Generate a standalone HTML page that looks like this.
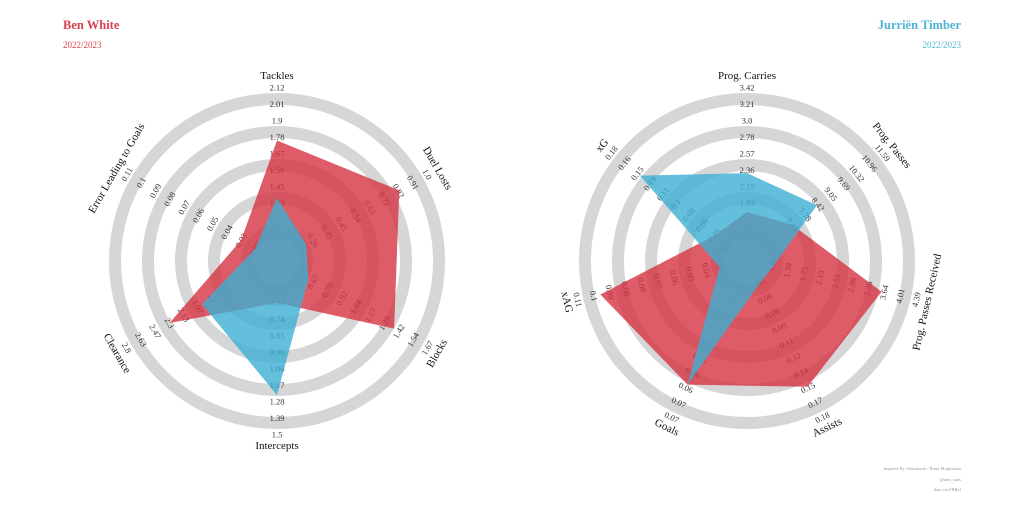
<!DOCTYPE html>
<html><head><meta charset="utf-8">
<style>
html,body{margin:0;padding:0;background:#fff;width:1024px;height:510px;overflow:hidden}
svg{display:block;font-family:"Liberation Serif",serif}
</style></head>
<body>
<svg id="chart" width="1024" height="510" viewBox="0 0 1024 510">
<text x="63" y="29" font-size="12.5" font-weight="bold" fill="#d8404f">Ben White</text>
<text x="63" y="48" font-size="9" fill="#d8404f">2022/2023</text>
<text x="961" y="29" font-size="12.5" font-weight="bold" fill="#4fb3d4" text-anchor="end">Jurriën Timber</text>
<text x="961" y="48" font-size="9" fill="#4fb3d4" text-anchor="end">2022/2023</text>
<text x="961" y="470" font-size="4.5" fill="#999" text-anchor="end">Inspired By: Statsbomb / Rami Moghadam</text>
<text x="961" y="481" font-size="4.5" fill="#999" text-anchor="end">@tam_stats</text>
<text x="961" y="491" font-size="4.5" fill="#999" text-anchor="end">data via FBRef</text>
</svg>
<script>
// ---- Left radar data ----
const leftCategories = ["Tackles","Duel Losts","Blocks","Intercepts","Clearance","Error Leading to Goals"];
const leftMins = [1.0, 0.08, 0.42, 0.41, 1.13, 0.01];
const leftMaxs = [2.12, 1.0, 1.67, 1.5, 2.8, 0.11];
const leftTicks = [
 ["1.11","1.22","1.33","1.45","1.56","1.67","1.78","1.9","2.01","2.12"],
 ["0.17","0.26","0.35","0.45","0.54","0.63","0.72","0.82","0.91","1.0"],
 ["0.54","0.67","0.79","0.92","1.04","1.17","1.29","1.42","1.54","1.67"],
 ["0.52","0.63","0.74","0.85","0.96","1.06","1.17","1.28","1.39","1.5"],
 ["1.3","1.47","1.63","1.8","1.97","2.13","2.3","2.47","2.63","2.8"],
 ["0.02","0.03","0.04","0.05","0.06","0.07","0.08","0.09","0.1","0.11"]
];
const leftRed = [1.76, 0.82, 1.38, 0.63, 2.30, 0.03];
const leftBlue = [1.37, 0.22, 0.63, 1.24, 1.92, 0.02];
// ---- Right radar data ----
const rightCategories = ["Prog. Carries","Prog. Passes","Prog. Passes Received","Assists","Goals","xAG","xG"];
const rightMins = [1.30, 5.25, 0.62, 0.034, 0.025, 0.017, 0.013];
const rightMaxs = [3.42, 11.59, 4.39, 0.18, 0.075, 0.11, 0.18];
const rightTicks = [
 ["1.51","1.72","1.93","2.15","2.36","2.57","2.78","3.0","3.21","3.42"],
 ["5.88","6.51","7.15","7.78","8.42","9.05","9.69","10.32","10.96","11.59"],
 ["1.0","1.38","1.75","2.13","2.51","2.88","3.26","3.64","4.01","4.39"],
 ["0.05","0.06","0.08","0.09","0.11","0.12","0.14","0.15","0.17","0.18"],
 ["0.03","0.03","0.04","0.04","0.05","0.05","0.06","0.06","0.07","0.07"],
 ["0.03","0.04","0.05","0.06","0.07","0.08","0.08","0.09","0.1","0.11"],
 ["0.03","0.05","0.06","0.08","0.1","0.11","0.13","0.15","0.16","0.18"]
];
const rightRed = [1.82, 7.15, 3.58, 0.150, 0.064, 0.097, 0.046];
const rightBlue = [2.32, 8.36, 1.03, 0.050, 0.064, 0.028, 0.143];

const NS="http://www.w3.org/2000/svg";
const svg=document.getElementById('chart');
const R0=8.5, RSPAN=165;
function mk(tag,attrs,parent){const e=document.createElementNS(NS,tag);for(const k in attrs)e.setAttribute(k,attrs[k]);(parent||svg).appendChild(e);return e;}
function radius(v,mn,mx){return R0+RSPAN*(v-mn)/(mx-mn);}
function pt(cx,cy,ang,r){const a=ang*Math.PI/180;return [cx+r*Math.sin(a),cy-r*Math.cos(a)];}
function rot(ang){if(ang<=90)return ang; if(ang>=270)return ang-360; return ang-180;}

function radar(prefix,cx,cy,cats,mins,maxs,ticks,red,blue){
  const g=mk('g',{});
  
  
  [162,129,96,63,30].forEach((r,i)=>{
    const c=mk('circle',{cx:cx,cy:cy,r:r,fill:'none',stroke:'#d6d6d6','stroke-width':12},g);
    
    
  });
  const n=cats.length;
  for(let i=0;i<n;i++){
    const ang=360*i/n, rr=rot(ang);
    ticks[i].forEach((t,k)=>{
      const [x,y]=pt(cx,cy,ang,R0+16.5*(k+1));
      const tx=mk('text',{x:x,y:y,'font-size':8.5,fill:'#333','text-anchor':'middle','dominant-baseline':'central',transform:`rotate(${rr} ${x} ${y})`},g);
      tx.textContent=t;
      
      
    });
  }
  function poly(vals,fill,name){
    const pts=vals.map((v,i)=>pt(cx,cy,360*i/n,radius(v,mins[i],maxs[i])).join(',')).join(' ');
    const p=mk('polygon',{points:pts,fill:fill,'fill-opacity':0.8},g);
    
    
  }
  poly(red,'rgb(214,50,66)',prefix+'-red-series');
  poly(blue,'rgb(60,175,210)',prefix+'-blue-series');
  for(let i=0;i<n;i++){
    const ang=360*i/n, rr=rot(ang);
    const [lx,ly]=pt(cx,cy,ang,185);
    const lb=mk('text',{x:lx,y:ly,'font-size':11,fill:'#111','text-anchor':'middle','dominant-baseline':'central',transform:`rotate(${rr} ${lx} ${ly})`},g);
    lb.textContent=cats[i];
    
    
  }
}
radar('left',277,261,leftCategories,leftMins,leftMaxs,leftTicks,leftRed,leftBlue);
radar('right',747,261,rightCategories,rightMins,rightMaxs,rightTicks,rightRed,rightBlue);
</script>
</body></html>
